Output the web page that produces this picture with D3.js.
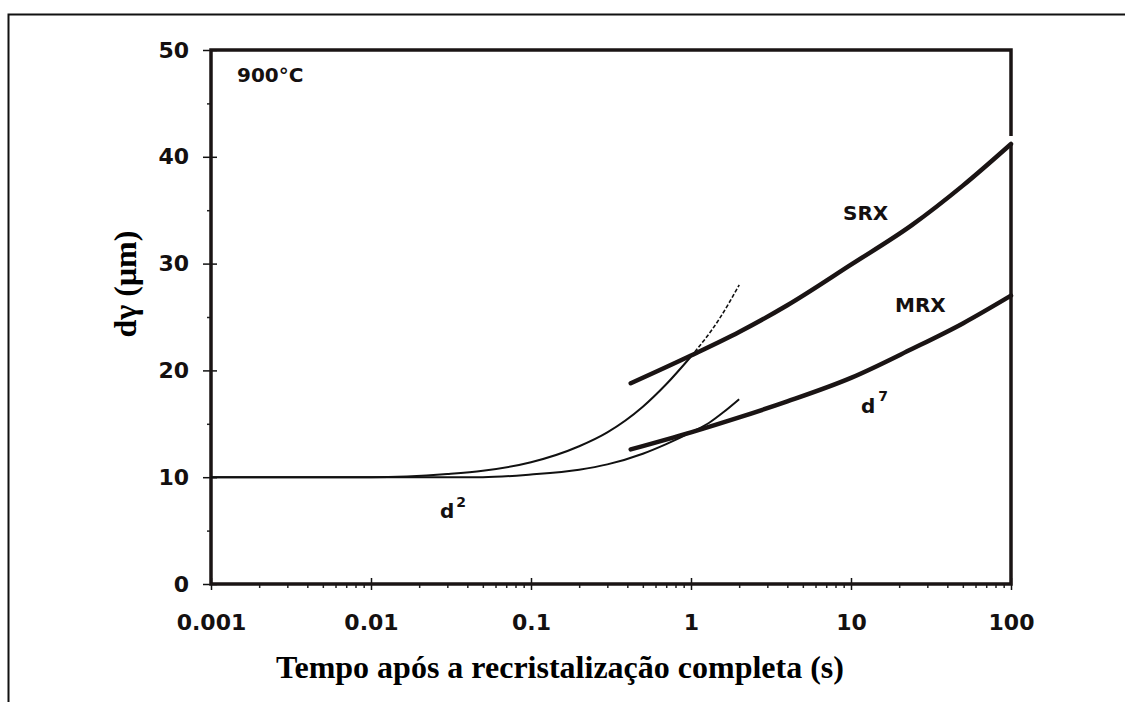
<!DOCTYPE html>
<html>
<head>
<meta charset="utf-8">
<script src="https://cdn.jsdelivr.net/npm/d3@7"></script>
<style>
  body { margin: 0; background: #fff; }
  svg { display: block; }
  .tick-label { font-family: "DejaVu Sans", sans-serif; font-weight: bold; font-size: 22px; fill: #141010; }
  .note { font-family: "DejaVu Sans", sans-serif; font-weight: bold; font-size: 20px; fill: #141010; }
  .title { font-family: "Liberation Serif", "Times New Roman", serif; font-weight: bold; font-size: 32px; fill: #000; }
</style>
</head>
<body>
<svg id="chart" width="1125" height="702"></svg>
<script>
// tick values
const xTicks = [0.001, 0.01, 0.1, 1, 10, 100];
const xTickLabels = ['0.001', '0.01', '0.1', '1', '10', '100'];
const yTicks = [0, 10, 20, 30, 40, 50];

// curves: [time (s), grain size (um)]
const d2Curve = [[0.001, 10], [0.01, 10], [0.03, 10.3], [0.05, 10.6], [0.1, 11.4], [0.2, 12.9],
  [0.3, 14.2], [0.5, 16.6], [0.7, 18.7], [1.0, 21.3]];
const d2Extension = [[1.0, 21.3], [1.5, 24.8], [2.0, 28.0]];
const lowerCurve = [[0.001, 10], [0.05, 10], [0.1, 10.25], [0.2, 10.7], [0.3, 11.2], [0.5, 12.2],
  [0.7, 13.1], [1.0, 14.2], [1.3, 15.1], [1.6, 16.1], [2.0, 17.3]];
const srxCurve = [[0.42, 18.8], [1, 21.4], [2, 23.6], [4, 26.1], [10, 29.9], [24, 33.6], [50, 37.3], [100, 41.2]];
const mrxCurve = [[0.42, 12.6], [1, 14.2], [2, 15.6], [4, 17.1], [10, 19.3], [24, 22.0], [50, 24.4], [100, 27.0]];

const svg = d3.select('#chart');
const margin = { top: 50, left: 211, right: 114, bottom: 118 };
const width = 1125 - margin.left - margin.right;
const height = 702 - margin.top - margin.bottom;

// outer frame of the scanned figure
svg.append('path')
  .attr('d', 'M8.5,702 V14.5 H1125')
  .attr('fill', 'none')
  .attr('stroke', '#111')
  .attr('stroke-width', 2);

const g = svg.append('g').attr('transform', `translate(${margin.left},${margin.top})`);

const x = d3.scaleLog().domain([0.001, 100]).range([0, width]);
const y = d3.scaleLinear().domain([0, 50]).range([height, 0]);

// minor x ticks (2..9 in every decade)
const xMinor = [];
for (let e = -3; e < 2; e += 1) {
  for (let m = 2; m < 10; m += 1) xMinor.push(m * Math.pow(10, e));
}
const yMinor = [5, 15, 25, 35, 45];

g.append('g')
  .attr('transform', `translate(0,${height})`)
  .call(d3.axisBottom(x).tickValues(xMinor).tickSize(4).tickFormat(''))
  .call(s => s.select('.domain').remove())
  .selectAll('line').attr('stroke', '#222').attr('stroke-width', 1.5);

g.append('g')
  .attr('transform', `translate(0,${height})`)
  .call(d3.axisBottom(x).tickValues(xTicks).tickSize(6).tickPadding(24)
    .tickFormat((d, i) => xTickLabels[i]))
  .call(s => s.select('.domain').remove())
  .call(s => s.selectAll('line').attr('y1', -6).attr('stroke', '#111').attr('stroke-width', 1.5))
  .selectAll('text').attr('class', 'tick-label').attr('fill', null);

g.append('g')
  .call(d3.axisLeft(y).tickValues(yMinor).tickSize(4).tickFormat(''))
  .call(s => s.select('.domain').remove())
  .selectAll('line').attr('stroke', '#222').attr('stroke-width', 1.5);

g.append('g')
  .call(d3.axisLeft(y).tickValues(yTicks).tickSize(8).tickPadding(14))
  .call(s => s.select('.domain').remove())
  .call(s => s.selectAll('line').attr('x1', 6).attr('stroke', '#111').attr('stroke-width', 1.5))
  .selectAll('text').attr('class', 'tick-label').attr('fill', null);

// plot frame (right side broken where SRX meets it)
const srxEndY = y(srxCurve[srxCurve.length - 1][1]);
g.append('path')
  .attr('d', `M${width},${srxEndY - 8} V0 H0 V${height} H${width} V${srxEndY}`)
  .attr('fill', 'none')
  .attr('stroke', '#1a1414')
  .attr('stroke-width', 3.5);

const line = d3.line()
  .x(d => x(d[0]))
  .y(d => y(d[1]))
  .curve(d3.curveMonotoneX);

g.append('path').datum(lowerCurve).attr('d', line)
  .attr('fill', 'none').attr('stroke', '#111').attr('stroke-width', 2);
g.append('path').datum(d2Curve).attr('d', line)
  .attr('fill', 'none').attr('stroke', '#111').attr('stroke-width', 2);
g.append('path').datum(d2Extension).attr('d', line)
  .attr('fill', 'none').attr('stroke', '#111').attr('stroke-width', 1.6)
  .attr('stroke-dasharray', '4,2');
g.append('path').datum(srxCurve).attr('d', line)
  .attr('fill', 'none').attr('stroke', '#1a1414').attr('stroke-width', 4.5)
  .attr('stroke-linecap', 'round');
g.append('path').datum(mrxCurve).attr('d', line)
  .attr('fill', 'none').attr('stroke', '#1a1414').attr('stroke-width', 4.5)
  .attr('stroke-linecap', 'round');

// annotations
svg.append('text').attr('class', 'note').attr('x', 237).attr('y', 82).text('900°C');
svg.append('text').attr('class', 'note').attr('x', 843).attr('y', 220).text('SRX');
svg.append('text').attr('class', 'note').attr('x', 895).attr('y', 312).text('MRX');
const d7 = svg.append('text').attr('class', 'note').attr('x', 861).attr('y', 413);
d7.append('tspan').text('d');
d7.append('tspan').attr('dx', 3).attr('dy', -12).attr('font-size', 14).text('7');
const d2 = svg.append('text').attr('class', 'note').attr('x', 440).attr('y', 518);
d2.append('tspan').text('d');
d2.append('tspan').attr('dx', 2).attr('dy', -11).attr('font-size', 14).text('2');

// axis titles
svg.append('text').attr('class', 'title')
  .attr('text-anchor', 'middle')
  .attr('x', 560).attr('y', 678)
  .text('Tempo após a recristalização completa (s)');
svg.append('text').attr('class', 'title')
  .attr('text-anchor', 'middle')
  .attr('font-size', 28)
  .attr('transform', 'translate(136,284) rotate(-90)')
  .text('dγ (μm)');
</script>
</body>
</html>
